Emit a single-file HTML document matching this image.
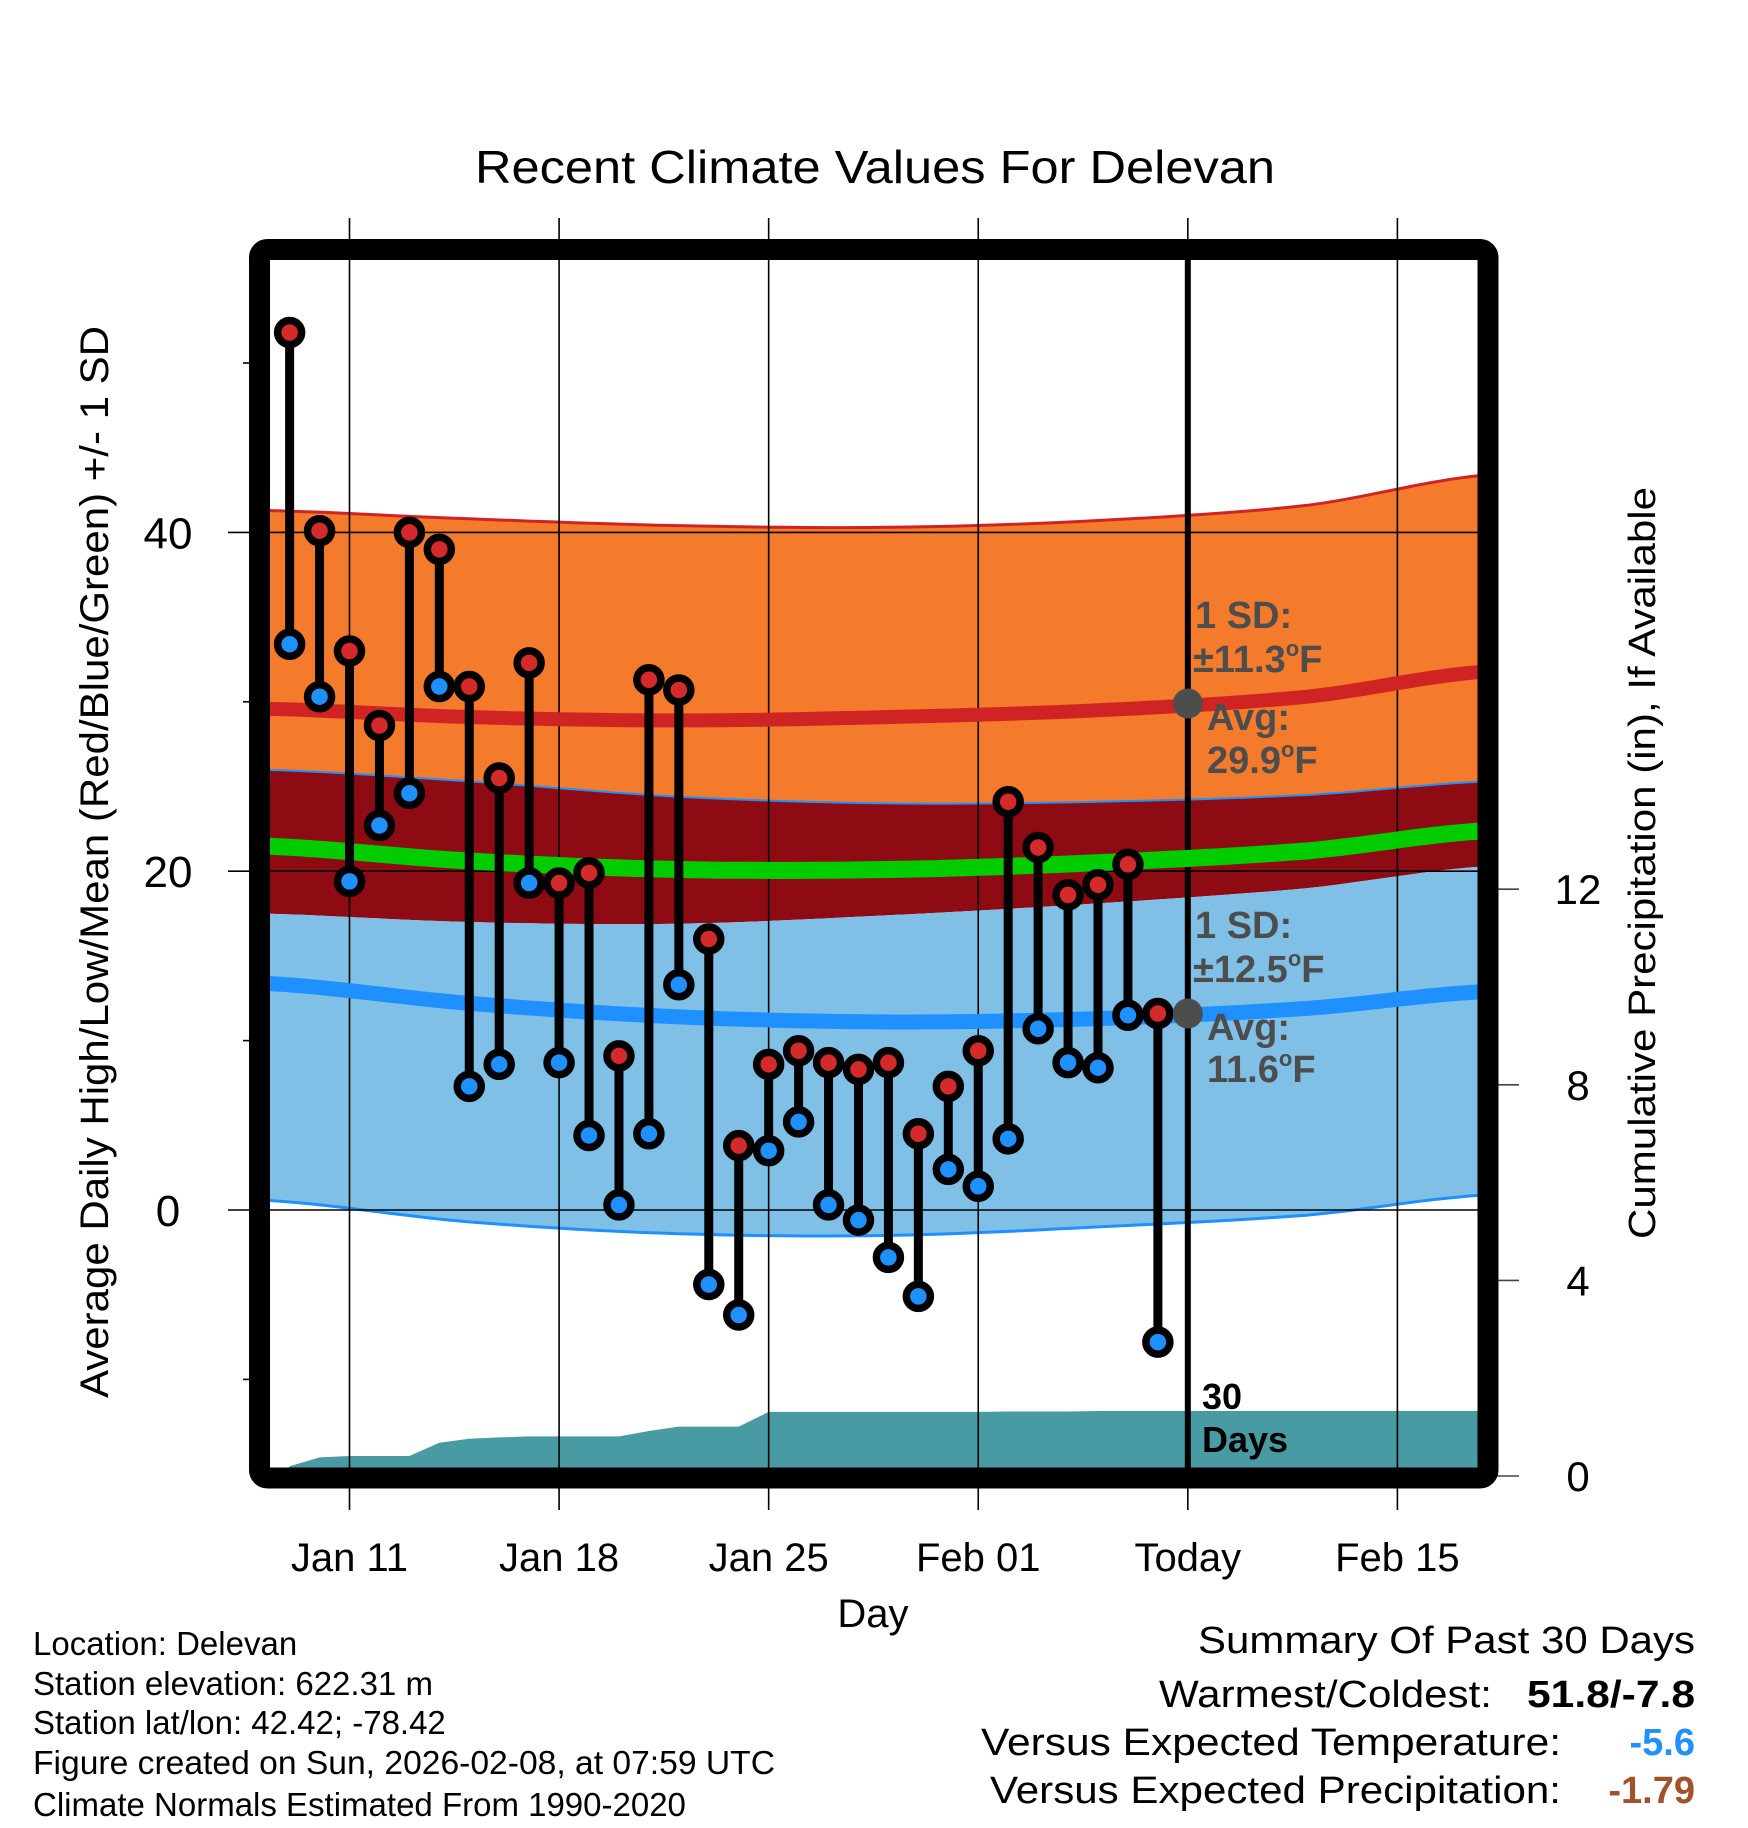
<!DOCTYPE html>
<html><head><meta charset="utf-8"><title>Recent Climate Values For Delevan</title>
<style>html,body{margin:0;padding:0;background:#fff}svg{display:block}text{font-family:"Liberation Sans",Arial,sans-serif}</style>
</head><body>
<svg id="chart" width="1748" height="1828" viewBox="0 0 1748 1828" xmlns="http://www.w3.org/2000/svg">
<defs><clipPath id="plotclip"><rect x="270" y="260" width="1208" height="1208"/></clipPath></defs>
<g id="bands" clip-path="url(#plotclip)"></g>
<g id="precip" clip-path="url(#plotclip)"></g>
<g id="grid"></g>
<g id="normlines" clip-path="url(#plotclip)"></g>
<g id="marks"></g>
<g id="annot"></g>
<rect x="259.5" y="249.5" width="1228.5" height="1228.5" rx="8" fill="none" stroke="#000" stroke-width="21"/>
<text x="875" y="183" font-size="46" text-anchor="middle" textLength="800" lengthAdjust="spacingAndGlyphs">Recent Climate Values For Delevan</text>
<text transform="translate(108,862) rotate(-90)" font-size="40" text-anchor="middle" textLength="1072" lengthAdjust="spacingAndGlyphs">Average Daily High/Low/Mean (Red/Blue/Green) +/- 1 SD</text>
<text transform="translate(1655,863) rotate(-90)" font-size="38" text-anchor="middle" textLength="752" lengthAdjust="spacingAndGlyphs">Cumulative Precipitation (in), If Available</text>
<text x="873" y="1627" font-size="40" text-anchor="middle">Day</text>
<g font-size="33">
<text x="33" y="1655">Location: Delevan</text>
<text x="33" y="1695">Station elevation: 622.31 m</text>
<text x="33" y="1734">Station lat/lon: 42.42; -78.42</text>
<text x="33" y="1774" textLength="742" lengthAdjust="spacingAndGlyphs">Figure created on Sun, 2026-02-08, at 07:59 UTC</text>
<text x="33" y="1816">Climate Normals Estimated From 1990-2020</text>
</g>
<g font-size="38">
<text x="1695" y="1653" text-anchor="end" textLength="497" lengthAdjust="spacingAndGlyphs">Summary Of Past 30 Days</text>
<text x="1492" y="1707" text-anchor="end" textLength="333" lengthAdjust="spacingAndGlyphs">Warmest/Coldest:</text>
<text x="1695" y="1707" text-anchor="end" font-weight="bold" textLength="168" lengthAdjust="spacingAndGlyphs">51.8/-7.8</text>
<text x="1561" y="1755" text-anchor="end" textLength="580" lengthAdjust="spacingAndGlyphs">Versus Expected Temperature:</text>
<text x="1695" y="1755" text-anchor="end" font-weight="bold" fill="#1e90ff">-5.6</text>
<text x="1561" y="1803" text-anchor="end" textLength="571" lengthAdjust="spacingAndGlyphs">Versus Expected Precipitation:</text>
<text x="1695" y="1803" text-anchor="end" font-weight="bold" fill="#a0522d">-1.79</text>
</g>
</svg>
<script>
const days = ["Jan 09","Jan 10","Jan 11","Jan 12","Jan 13","Jan 14","Jan 15","Jan 16","Jan 17","Jan 18","Jan 19","Jan 20","Jan 21","Jan 22","Jan 23","Jan 24","Jan 25","Jan 26","Jan 27","Jan 28","Jan 29","Jan 30","Jan 31","Feb 01","Feb 02","Feb 03","Feb 04","Feb 05","Feb 06","Feb 07"];
const dayOffsets = [-2,-1,0,1,2,3,4,5,6,7,8,9,10,11,12,13,14,15,16,17,18,19,20,21,22,23,24,25,26,27];
const highs = [51.8,40.1,33.0,28.6,40.0,39.0,30.9,25.5,32.3,19.3,19.9,9.1,31.3,30.7,16.0,3.8,8.6,9.4,8.7,8.3,8.7,4.5,7.3,9.4,24.1,21.4,18.6,19.2,20.4,11.6];
const lows  = [33.4,30.3,19.4,22.7,24.6,30.9,7.3,8.6,19.3,8.7,4.4,0.3,4.5,13.3,-4.4,-6.2,3.5,5.2,0.3,-0.6,-2.8,-5.1,2.4,1.4,4.2,10.7,8.7,8.4,11.5,-7.8];
const precipCum = [0.2,0.38,0.41,0.41,0.41,0.68,0.76,0.79,0.81,0.81,0.81,0.81,0.92,1.01,1.01,1.01,1.31,1.31,1.31,1.31,1.31,1.31,1.31,1.31,1.32,1.32,1.32,1.33,1.33,1.33];
const normDays = [-3,4,11,18,25,32,38];
const highUpper = [41.3,40.8,40.4,40.3,40.7,41.6,43.4];
const highMean  = [29.6,29.1,28.9,29.1,29.5,30.3,31.8];
const highLower = [26.0,25.3,24.4,24.0,24.1,24.5,25.3];
const meanLine  = [21.5,20.6,20.1,20.1,20.5,21.2,22.4];
const lowUpper  = [17.5,17.0,16.9,17.4,18.1,19.0,20.3];
const lowMean   = [13.4,12.2,11.4,11.1,11.3,11.9,12.9];
const lowLower  = [0.6,-0.7,-1.4,-1.5,-1.0,-0.3,0.9];
const yTicks = [0,20,40];
const yMinor = [-10,10,30,50];
const y2Ticks = [0,4,8,12];
const xTickDays = [0,7,14,21,28,35];
const xTickLabels = ["Jan 11","Jan 18","Jan 25","Feb 01","Today","Feb 15"];
const todayOffset = 28;
const todayHighAvg = 29.9, todayLowAvg = 11.6;

const X = d => 349.5 + d*29.94;
const Y = v => 1210 - v*16.94;
const Y2 = p => 1476 - p*48.9;
const NS = "http://www.w3.org/2000/svg";
function mk(tag, attrs, parent){const e=document.createElementNS(NS,tag);for(const k in attrs)e.setAttribute(k,attrs[k]);parent.appendChild(e);return e;}
function smoothPts(arr){
  const pts=[];
  for(let i=0;i<normDays.length-1;i++){
    const p0=arr[Math.max(i-1,0)],p1=arr[i],p2=arr[i+1],p3=arr[Math.min(i+2,arr.length-1)];
    const d1=normDays[i],d2=normDays[i+1];
    for(let s=0;s<10;s++){const t=s/10;
      const v=0.5*((2*p1)+(-p0+p2)*t+(2*p0-5*p1+4*p2-p3)*t*t+(-p0+3*p1-3*p2+p3)*t*t*t);
      pts.push([X(d1+(d2-d1)*t),Y(v)]);}
  }
  pts.push([X(normDays[normDays.length-1]),Y(arr[arr.length-1])]);
  return pts;
}
const ps = pts => pts.map(p=>p[0].toFixed(1)+","+p[1].toFixed(1)).join(" ");
function band(top,bot,fill,name){
  const a=smoothPts(top), b=smoothPts(bot).reverse();
  const el=mk("polygon",{points:ps(a.concat(b)),fill:fill},document.getElementById("bands"));
  
  
}
band(highUpper,highLower,"#f47a2c","high-sd-band");
band(highLower,lowUpper,"#8f0b14","overlap-band");
band(lowUpper,lowLower,"#80c0e6","low-sd-band");
function line(arr,color,w,name,g){
  const el=mk("polyline",{points:ps(smoothPts(arr)),fill:"none",stroke:color,"stroke-width":w},g);
  
  
}
const bg=document.getElementById("bands");
line(highUpper,"#d02424",3,"high-upper-line",bg);
line(highLower,"#1e90ff",2,"high-lower-line",bg);
line(lowLower,"#1e90ff",3,"low-lower-line",bg);

const pg=document.getElementById("precip");
let pp=[[X(dayOffsets[0])-7,Y2(0)]];
dayOffsets.forEach((d,i)=>pp.push([X(d),Y2(precipCum[i])]));
pp.push([1480,Y2(precipCum[precipCum.length-1])]);pp.push([1480,1480]);pp.push([X(dayOffsets[0])-7,1480]);
const pel=mk("polygon",{points:ps(pp),fill:"#489aa3"},pg);



const gg=document.getElementById("grid");
xTickDays.forEach((d,i)=>{
  const l=mk("line",{x1:X(d),x2:X(d),y1:218,y2:1510,stroke:"#000","stroke-width":1.6},gg);
  
  
  const t=mk("text",{x:X(d),y:1571,"font-size":40,"text-anchor":"middle"},gg);
  t.textContent=xTickLabels[i];
  
  
});
yTicks.forEach(v=>{
  const l=mk("line",{x1:228,x2:1478,y1:Y(v),y2:Y(v),stroke:"#000","stroke-width":1.6},gg);
  
  
  const t=mk("text",{x:168,y:Y(v)+16,"font-size":44,"text-anchor":"middle"},gg);
  t.textContent=v;
  
  
});
yMinor.forEach(v=>{
  const l=mk("line",{x1:243,x2:252,y1:Y(v),y2:Y(v),stroke:"#000","stroke-width":1.6},gg);
  
  
});
y2Ticks.forEach(p=>{
  const l=mk("line",{x1:1495,x2:1519,y1:Y2(p),y2:Y2(p),stroke:"#444","stroke-width":1.6},gg);
  
  
  const t=mk("text",{x:1578,y:Y2(p)+15,"font-size":42,"text-anchor":"middle"},gg);
  t.textContent=p;
  
  
});

const ng=document.getElementById("normlines");
line(meanLine,"#00cc00",17,"mean-normal-line",ng);
line(highMean,"#d02424",14,"high-normal-line",ng);
line(lowMean,"#1e90ff",15,"low-normal-line",ng);

const tl=mk("line",{x1:X(todayOffset),x2:X(todayOffset),y1:255,y2:1470,stroke:"#000","stroke-width":6},gg);



const mg=document.getElementById("marks");
dayOffsets.forEach((d,i)=>{
  const s=mk("line",{x1:X(d),x2:X(d),y1:Y(highs[i]),y2:Y(lows[i]),stroke:"#000","stroke-width":9},mg);
  
  
});
dayOffsets.forEach((d,i)=>{
  const h=mk("circle",{cx:X(d),cy:Y(highs[i]),r:12,fill:"#d42a2a",stroke:"#000","stroke-width":7.5},mg);
  
  
  const l=mk("circle",{cx:X(d),cy:Y(lows[i]),r:12,fill:"#1e90ff",stroke:"#000","stroke-width":7.5},mg);
  
  
});

const ag=document.getElementById("annot");
[todayHighAvg,todayLowAvg].forEach(v=>{
  const c=mk("circle",{cx:X(todayOffset),cy:Y(v),r:15,fill:"#4d4d4d"},ag);
  
  
});
function at(x,y,parts,name,size,fill){
  const t=mk("text",{x:x,y:y,"font-size":size,"font-weight":"bold",fill:fill},ag);
  
  
  const s1=mk("tspan",{},t); s1.textContent=parts[0];
  if(parts.length>1){
    const s2=mk("tspan",{"font-size":22,dy:-16},t); s2.textContent="o";
    const s3=mk("tspan",{dy:16},t); s3.textContent="F";
  }
}
at(1195,628,["1 SD:"],"high-sd-label",38,"#4d4d4d");
at(1193,672,["±11.3","F"],"high-sd-value",38,"#4d4d4d");
at(1207,730,["Avg:"],"high-avg-label",38,"#4d4d4d");
at(1207,773,["29.9","F"],"high-avg-value",38,"#4d4d4d");
at(1195,938,["1 SD:"],"low-sd-label",38,"#4d4d4d");
at(1193,982,["±12.5","F"],"low-sd-value",38,"#4d4d4d");
at(1207,1040,["Avg:"],"low-avg-label",38,"#4d4d4d");
at(1207,1082,["11.6","F"],"low-avg-value",38,"#4d4d4d");
at(1202,1409,["30"],"days-count",36,"#000");
at(1202,1452,["Days"],"days-label",36,"#000");
</script>
</body></html>
